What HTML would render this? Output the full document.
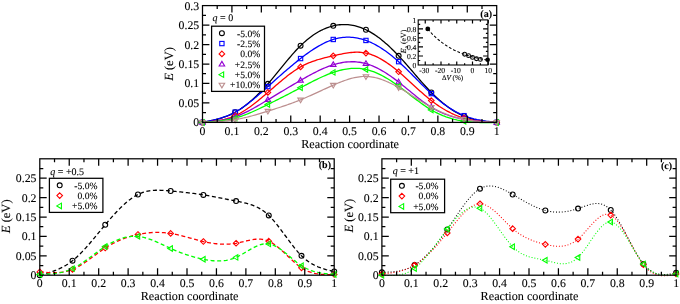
<!DOCTYPE html><html><head><meta charset="utf-8"><style>html,body{margin:0;padding:0;background:#fff;}svg{display:block;will-change:transform;text-rendering:geometricPrecision;} text{stroke:#000;stroke-width:0.1px;}</style></head><body>
<svg width="680" height="304" viewBox="0 0 680 304" font-family='"Liberation Serif", serif'>
<rect width="680" height="304" fill="#fff"/>
<text transform="translate(173.2,64) rotate(-90)" text-anchor="middle" font-size="12.5"><tspan font-style="italic">E</tspan> (eV)</text>
<polyline points="202.5,122.4 204.13,122.08 205.77,121.77 207.4,121.44 209.04,121.11 210.67,120.76 212.31,120.4 213.94,120.03 215.58,119.63 217.21,119.21 218.84,118.76 220.48,118.29 222.11,117.78 223.75,117.23 225.38,116.65 227.02,116.03 228.65,115.36 230.29,114.65 231.92,113.89 233.55,113.07 235.19,112.2 236.82,111.27 238.46,110.28 240.09,109.24 241.73,108.14 243.36,106.99 245,105.78 246.63,104.52 248.26,103.21 249.9,101.85 251.53,100.44 253.17,98.98 254.8,97.48 256.44,95.93 258.07,94.33 259.71,92.69 261.34,91 262.97,89.28 264.61,87.51 266.24,85.7 267.88,83.86 269.51,81.97 271.15,80.05 272.78,78.11 274.42,76.14 276.05,74.16 277.68,72.16 279.32,70.15 280.95,68.14 282.59,66.14 284.22,64.14 285.86,62.16 287.49,60.19 289.13,58.24 290.76,56.33 292.39,54.44 294.03,52.6 295.66,50.8 297.3,49.04 298.93,47.34 300.57,45.7 302.2,44.12 303.84,42.61 305.47,41.15 307.1,39.76 308.74,38.44 310.37,37.17 312.01,35.97 313.64,34.83 315.28,33.75 316.91,32.73 318.55,31.77 320.18,30.87 321.81,30.04 323.45,29.26 325.08,28.54 326.72,27.89 328.35,27.29 329.99,26.75 331.62,26.27 333.26,25.85 334.89,25.48 336.52,25.18 338.16,24.93 339.79,24.74 341.43,24.61 343.06,24.54 344.7,24.53 346.33,24.57 347.97,24.68 349.6,24.84 351.23,25.06 352.87,25.35 354.5,25.69 356.14,26.09 357.77,26.55 359.41,27.07 361.04,27.64 362.68,28.28 364.31,28.98 365.94,29.74 367.58,30.56 369.21,31.43 370.85,32.37 372.48,33.36 374.12,34.4 375.75,35.5 377.39,36.65 379.02,37.85 380.65,39.1 382.29,40.4 383.92,41.75 385.56,43.15 387.19,44.59 388.83,46.07 390.46,47.6 392.1,49.16 393.73,50.77 395.36,52.42 397,54.1 398.63,55.82 400.27,57.58 401.9,59.37 403.54,61.18 405.17,63.02 406.81,64.88 408.44,66.75 410.07,68.64 411.71,70.53 413.34,72.43 414.98,74.32 416.61,76.22 418.25,78.1 419.88,79.97 421.52,81.83 423.15,83.67 424.78,85.48 426.42,87.27 428.05,89.02 429.69,90.74 431.32,92.42 432.96,94.06 434.59,95.65 436.23,97.2 437.86,98.7 439.49,100.16 441.13,101.57 442.76,102.94 444.4,104.26 446.03,105.53 447.67,106.75 449.3,107.92 450.94,109.05 452.57,110.12 454.2,111.14 455.84,112.11 457.47,113.03 459.11,113.89 460.74,114.71 462.38,115.47 464.01,116.17 465.65,116.82 467.28,117.42 468.91,117.97 470.55,118.47 472.18,118.93 473.82,119.35 475.45,119.72 477.09,120.07 478.72,120.38 480.36,120.66 481.99,120.91 483.62,121.14 485.26,121.34 486.89,121.53 488.53,121.7 490.16,121.86 491.8,122 493.43,122.14 495.07,122.27 496.7,122.4" fill="none" stroke="#000" stroke-width="1.3" stroke-linejoin="round"/>
<circle cx="202.5" cy="122.4" r="2.45" fill="none" stroke="#000" stroke-width="1.1"/>
<circle cx="235.19" cy="112.2" r="2.45" fill="none" stroke="#000" stroke-width="1.1"/>
<circle cx="267.88" cy="83.86" r="2.45" fill="none" stroke="#000" stroke-width="1.1"/>
<circle cx="300.57" cy="45.7" r="2.45" fill="none" stroke="#000" stroke-width="1.1"/>
<circle cx="333.26" cy="25.85" r="2.45" fill="none" stroke="#000" stroke-width="1.1"/>
<circle cx="365.94" cy="29.74" r="2.45" fill="none" stroke="#000" stroke-width="1.1"/>
<circle cx="398.63" cy="55.82" r="2.45" fill="none" stroke="#000" stroke-width="1.1"/>
<circle cx="431.32" cy="92.42" r="2.45" fill="none" stroke="#000" stroke-width="1.1"/>
<circle cx="464.01" cy="116.17" r="2.45" fill="none" stroke="#000" stroke-width="1.1"/>
<circle cx="496.7" cy="122.4" r="2.45" fill="none" stroke="#000" stroke-width="1.1"/>
<polyline points="202.5,122.4 204.13,122.08 205.77,121.75 207.4,121.42 209.04,121.08 210.67,120.73 212.31,120.36 213.94,119.98 215.58,119.57 217.21,119.14 218.84,118.69 220.48,118.21 222.11,117.7 223.75,117.15 225.38,116.57 227.02,115.94 228.65,115.28 230.29,114.56 231.92,113.8 233.55,112.99 235.19,112.12 236.82,111.2 238.46,110.22 240.09,109.19 241.73,108.11 243.36,106.99 245,105.82 246.63,104.61 248.26,103.37 249.9,102.09 251.53,100.78 253.17,99.44 254.8,98.08 256.44,96.69 258.07,95.28 259.71,93.86 261.34,92.42 262.97,90.97 264.61,89.51 266.24,88.05 267.88,86.58 269.51,85.11 271.15,83.65 272.78,82.19 274.42,80.73 276.05,79.27 277.68,77.82 279.32,76.37 280.95,74.93 282.59,73.5 284.22,72.08 285.86,70.67 287.49,69.27 289.13,67.88 290.76,66.5 292.39,65.13 294.03,63.78 295.66,62.45 297.3,61.13 298.93,59.83 300.57,58.55 302.2,57.29 303.84,56.04 305.47,54.83 307.1,53.63 308.74,52.47 310.37,51.33 312.01,50.22 313.64,49.14 315.28,48.1 316.91,47.1 318.55,46.13 320.18,45.21 321.81,44.32 323.45,43.48 325.08,42.69 326.72,41.94 328.35,41.25 329.99,40.6 331.62,40.01 333.26,39.47 334.89,38.99 336.52,38.57 338.16,38.2 339.79,37.89 341.43,37.64 343.06,37.44 344.7,37.3 346.33,37.21 347.97,37.18 349.6,37.21 351.23,37.29 352.87,37.42 354.5,37.61 356.14,37.86 357.77,38.15 359.41,38.51 361.04,38.91 362.68,39.37 364.31,39.88 365.94,40.45 367.58,41.06 369.21,41.73 370.85,42.45 372.48,43.22 374.12,44.04 375.75,44.91 377.39,45.83 379.02,46.79 380.65,47.8 382.29,48.85 383.92,49.95 385.56,51.09 387.19,52.27 388.83,53.5 390.46,54.76 392.1,56.07 393.73,57.41 395.36,58.79 397,60.21 398.63,61.66 400.27,63.15 401.9,64.67 403.54,66.22 405.17,67.8 406.81,69.4 408.44,71.01 410.07,72.64 411.71,74.28 413.34,75.93 414.98,77.58 416.61,79.23 418.25,80.89 419.88,82.53 421.52,84.17 423.15,85.79 424.78,87.39 426.42,88.98 428.05,90.55 429.69,92.08 431.32,93.59 432.96,95.06 434.59,96.5 436.23,97.91 437.86,99.28 439.49,100.61 441.13,101.9 442.76,103.16 444.4,104.38 446.03,105.56 447.67,106.69 449.3,107.79 450.94,108.84 452.57,109.85 454.2,110.82 455.84,111.74 457.47,112.62 459.11,113.45 460.74,114.24 462.38,114.98 464.01,115.66 465.65,116.3 467.28,116.9 468.91,117.45 470.55,117.96 472.18,118.42 473.82,118.86 475.45,119.25 477.09,119.62 478.72,119.95 480.36,120.26 481.99,120.55 483.62,120.81 485.26,121.05 486.89,121.27 488.53,121.48 490.16,121.68 491.8,121.87 493.43,122.05 495.07,122.23 496.7,122.4" fill="none" stroke="#0000ff" stroke-width="1.3" stroke-linejoin="round"/>
<rect x="200.35" y="120.25" width="4.3" height="4.3" fill="none" stroke="#0000ff" stroke-width="1.1"/>
<rect x="233.04" y="109.97" width="4.3" height="4.3" fill="none" stroke="#0000ff" stroke-width="1.1"/>
<rect x="265.73" y="84.43" width="4.3" height="4.3" fill="none" stroke="#0000ff" stroke-width="1.1"/>
<rect x="298.42" y="56.4" width="4.3" height="4.3" fill="none" stroke="#0000ff" stroke-width="1.1"/>
<rect x="331.11" y="37.32" width="4.3" height="4.3" fill="none" stroke="#0000ff" stroke-width="1.1"/>
<rect x="363.79" y="38.3" width="4.3" height="4.3" fill="none" stroke="#0000ff" stroke-width="1.1"/>
<rect x="396.48" y="59.51" width="4.3" height="4.3" fill="none" stroke="#0000ff" stroke-width="1.1"/>
<rect x="429.17" y="91.44" width="4.3" height="4.3" fill="none" stroke="#0000ff" stroke-width="1.1"/>
<rect x="461.86" y="113.51" width="4.3" height="4.3" fill="none" stroke="#0000ff" stroke-width="1.1"/>
<rect x="494.55" y="120.25" width="4.3" height="4.3" fill="none" stroke="#0000ff" stroke-width="1.1"/>
<polyline points="202.5,122.4 204.13,122.26 205.77,122.12 207.4,121.98 209.04,121.82 210.67,121.65 212.31,121.47 213.94,121.27 215.58,121.05 217.21,120.81 218.84,120.53 220.48,120.23 222.11,119.9 223.75,119.52 225.38,119.11 227.02,118.66 228.65,118.16 230.29,117.62 231.92,117.02 233.55,116.37 235.19,115.66 236.82,114.9 238.46,114.07 240.09,113.2 241.73,112.26 243.36,111.28 245,110.26 246.63,109.19 248.26,108.07 249.9,106.92 251.53,105.73 253.17,104.51 254.8,103.26 256.44,101.97 258.07,100.67 259.71,99.33 261.34,97.98 262.97,96.61 264.61,95.23 266.24,93.83 267.88,92.42 269.51,91.01 271.15,89.59 272.78,88.17 274.42,86.75 276.05,85.33 277.68,83.93 279.32,82.53 280.95,81.16 282.59,79.79 284.22,78.45 285.86,77.14 287.49,75.85 289.13,74.59 290.76,73.37 292.39,72.18 294.03,71.04 295.66,69.94 297.3,68.88 298.93,67.87 300.57,66.92 302.2,66.02 303.84,65.18 305.47,64.38 307.1,63.64 308.74,62.93 310.37,62.27 312.01,61.65 313.64,61.07 315.28,60.51 316.91,59.99 318.55,59.5 320.18,59.03 321.81,58.58 323.45,58.15 325.08,57.74 326.72,57.34 328.35,56.95 329.99,56.57 331.62,56.2 333.26,55.82 334.89,55.45 336.52,55.08 338.16,54.71 339.79,54.36 341.43,54.02 343.06,53.7 344.7,53.4 346.33,53.12 347.97,52.87 349.6,52.66 351.23,52.48 352.87,52.34 354.5,52.24 356.14,52.19 357.77,52.19 359.41,52.25 361.04,52.37 362.68,52.54 364.31,52.79 365.94,53.1 367.58,53.48 369.21,53.94 370.85,54.46 372.48,55.05 374.12,55.71 375.75,56.43 377.39,57.2 379.02,58.04 380.65,58.93 382.29,59.87 383.92,60.87 385.56,61.91 387.19,63.01 388.83,64.14 390.46,65.32 392.1,66.54 393.73,67.8 395.36,69.1 397,70.43 398.63,71.79 400.27,73.18 401.9,74.59 403.54,76.03 405.17,77.49 406.81,78.96 408.44,80.45 410.07,81.94 411.71,83.44 413.34,84.95 414.98,86.45 416.61,87.94 418.25,89.43 419.88,90.9 421.52,92.36 423.15,93.8 424.78,95.22 426.42,96.61 428.05,97.97 429.69,99.3 431.32,100.6 432.96,101.85 434.59,103.07 436.23,104.24 437.86,105.37 439.49,106.47 441.13,107.52 442.76,108.54 444.4,109.51 446.03,110.45 447.67,111.35 449.3,112.2 450.94,113.02 452.57,113.79 454.2,114.53 455.84,115.23 457.47,115.89 459.11,116.5 460.74,117.08 462.38,117.62 464.01,118.12 465.65,118.58 467.28,119 468.91,119.38 470.55,119.74 472.18,120.06 473.82,120.35 475.45,120.61 477.09,120.85 478.72,121.06 480.36,121.25 481.99,121.42 483.62,121.58 485.26,121.71 486.89,121.84 488.53,121.95 490.16,122.05 491.8,122.15 493.43,122.23 495.07,122.32 496.7,122.4" fill="none" stroke="#ff0000" stroke-width="1.3" stroke-linejoin="round"/>
<path d="M202.5 119.6L205.3 122.4L202.5 125.2L199.7 122.4Z" fill="none" stroke="#ff0000" stroke-width="1.1"/>
<path d="M235.19 112.86L237.99 115.66L235.19 118.46L232.39 115.66Z" fill="none" stroke="#ff0000" stroke-width="1.1"/>
<path d="M267.88 89.62L270.68 92.42L267.88 95.22L265.08 92.42Z" fill="none" stroke="#ff0000" stroke-width="1.1"/>
<path d="M300.57 64.12L303.37 66.92L300.57 69.72L297.77 66.92Z" fill="none" stroke="#ff0000" stroke-width="1.1"/>
<path d="M333.26 53.02L336.06 55.82L333.26 58.62L330.46 55.82Z" fill="none" stroke="#ff0000" stroke-width="1.1"/>
<path d="M365.94 50.3L368.74 53.1L365.94 55.9L363.14 53.1Z" fill="none" stroke="#ff0000" stroke-width="1.1"/>
<path d="M398.63 68.99L401.43 71.79L398.63 74.59L395.83 71.79Z" fill="none" stroke="#ff0000" stroke-width="1.1"/>
<path d="M431.32 97.8L434.12 100.6L431.32 103.4L428.52 100.6Z" fill="none" stroke="#ff0000" stroke-width="1.1"/>
<path d="M464.01 115.32L466.81 118.12L464.01 120.92L461.21 118.12Z" fill="none" stroke="#ff0000" stroke-width="1.1"/>
<path d="M496.7 119.6L499.5 122.4L496.7 125.2L493.9 122.4Z" fill="none" stroke="#ff0000" stroke-width="1.1"/>
<polyline points="202.5,122.4 204.13,122.26 205.77,122.11 207.4,121.97 209.04,121.81 210.67,121.65 212.31,121.48 213.94,121.29 215.58,121.09 217.21,120.87 218.84,120.63 220.48,120.38 222.11,120.1 223.75,119.79 225.38,119.45 227.02,119.09 228.65,118.7 230.29,118.27 231.92,117.8 233.55,117.3 235.19,116.75 236.82,116.17 238.46,115.54 240.09,114.88 241.73,114.18 243.36,113.45 245,112.68 246.63,111.89 248.26,111.07 249.9,110.22 251.53,109.35 253.17,108.46 254.8,107.55 256.44,106.62 258.07,105.67 259.71,104.72 261.34,103.75 262.97,102.78 264.61,101.79 266.24,100.81 267.88,99.82 269.51,98.83 271.15,97.84 272.78,96.85 274.42,95.86 276.05,94.88 277.68,93.89 279.32,92.91 280.95,91.92 282.59,90.94 284.22,89.96 285.86,88.99 287.49,88.01 289.13,87.04 290.76,86.07 292.39,85.11 294.03,84.15 295.66,83.19 297.3,82.24 298.93,81.29 300.57,80.35 302.2,79.42 303.84,78.48 305.47,77.56 307.1,76.65 308.74,75.75 310.37,74.86 312.01,73.99 313.64,73.14 315.28,72.3 316.91,71.48 318.55,70.69 320.18,69.92 321.81,69.17 323.45,68.45 325.08,67.76 326.72,67.1 328.35,66.47 329.99,65.87 331.62,65.31 333.26,64.78 334.89,64.29 336.52,63.84 338.16,63.43 339.79,63.06 341.43,62.74 343.06,62.46 344.7,62.22 346.33,62.02 347.97,61.88 349.6,61.78 351.23,61.73 352.87,61.72 354.5,61.77 356.14,61.87 357.77,62.03 359.41,62.23 361.04,62.49 362.68,62.81 364.31,63.18 365.94,63.61 367.58,64.1 369.21,64.64 370.85,65.24 372.48,65.9 374.12,66.6 375.75,67.36 377.39,68.16 379.02,69 380.65,69.9 382.29,70.83 383.92,71.81 385.56,72.82 387.19,73.87 388.83,74.95 390.46,76.07 392.1,77.22 393.73,78.4 395.36,79.61 397,80.85 398.63,82.1 400.27,83.38 401.9,84.68 403.54,86 405.17,87.32 406.81,88.66 408.44,90 410.07,91.34 411.71,92.68 413.34,94.01 414.98,95.33 416.61,96.64 418.25,97.93 419.88,99.2 421.52,100.44 423.15,101.66 424.78,102.85 426.42,104 428.05,105.12 429.69,106.19 431.32,107.22 432.96,108.19 434.59,109.12 436.23,110.01 437.86,110.85 439.49,111.64 441.13,112.4 442.76,113.11 444.4,113.78 446.03,114.41 447.67,115.01 449.3,115.58 450.94,116.1 452.57,116.6 454.2,117.07 455.84,117.5 457.47,117.91 459.11,118.29 460.74,118.65 462.38,118.98 464.01,119.29 465.65,119.57 467.28,119.84 468.91,120.09 470.55,120.32 472.18,120.53 473.82,120.73 475.45,120.91 477.09,121.08 478.72,121.23 480.36,121.37 481.99,121.51 483.62,121.63 485.26,121.75 486.89,121.85 488.53,121.95 490.16,122.05 491.8,122.14 493.43,122.23 495.07,122.32 496.7,122.4" fill="none" stroke="#9400d3" stroke-width="1.3" stroke-linejoin="round"/>
<path d="M202.5 119.5L205.25 124.14L199.75 124.14Z" fill="none" stroke="#9400d3" stroke-width="1.1"/>
<path d="M235.19 113.85L237.94 118.49L232.43 118.49Z" fill="none" stroke="#9400d3" stroke-width="1.1"/>
<path d="M267.88 96.92L270.63 101.56L265.12 101.56Z" fill="none" stroke="#9400d3" stroke-width="1.1"/>
<path d="M300.57 77.45L303.32 82.09L297.81 82.09Z" fill="none" stroke="#9400d3" stroke-width="1.1"/>
<path d="M333.26 61.88L336.01 66.52L330.5 66.52Z" fill="none" stroke="#9400d3" stroke-width="1.1"/>
<path d="M365.94 60.71L368.7 65.35L363.19 65.35Z" fill="none" stroke="#9400d3" stroke-width="1.1"/>
<path d="M398.63 79.2L401.39 83.84L395.88 83.84Z" fill="none" stroke="#9400d3" stroke-width="1.1"/>
<path d="M431.32 104.32L434.08 108.96L428.57 108.96Z" fill="none" stroke="#9400d3" stroke-width="1.1"/>
<path d="M464.01 116.39L466.77 121.03L461.26 121.03Z" fill="none" stroke="#9400d3" stroke-width="1.1"/>
<path d="M496.7 119.5L499.45 124.14L493.94 124.14Z" fill="none" stroke="#9400d3" stroke-width="1.1"/>
<polyline points="202.5,122.4 204.13,122.3 205.77,122.2 207.4,122.09 209.04,121.98 210.67,121.87 212.31,121.74 213.94,121.61 215.58,121.46 217.21,121.3 218.84,121.12 220.48,120.92 222.11,120.71 223.75,120.48 225.38,120.22 227.02,119.94 228.65,119.63 230.29,119.3 231.92,118.94 233.55,118.54 235.19,118.12 236.82,117.66 238.46,117.16 240.09,116.64 241.73,116.08 243.36,115.5 245,114.89 246.63,114.26 248.26,113.6 249.9,112.93 251.53,112.23 253.17,111.51 254.8,110.78 256.44,110.03 258.07,109.26 259.71,108.49 261.34,107.7 262.97,106.91 264.61,106.11 266.24,105.3 267.88,104.49 269.51,103.68 271.15,102.86 272.78,102.04 274.42,101.22 276.05,100.4 277.68,99.57 279.32,98.74 280.95,97.91 282.59,97.08 284.22,96.24 285.86,95.4 287.49,94.56 289.13,93.72 290.76,92.87 292.39,92.02 294.03,91.17 295.66,90.32 297.3,89.47 298.93,88.61 300.57,87.75 302.2,86.89 303.84,86.02 305.47,85.16 307.1,84.31 308.74,83.45 310.37,82.6 312.01,81.76 313.64,80.93 315.28,80.12 316.91,79.31 318.55,78.52 320.18,77.75 321.81,76.99 323.45,76.26 325.08,75.55 326.72,74.86 328.35,74.19 329.99,73.56 331.62,72.95 333.26,72.37 334.89,71.83 336.52,71.31 338.16,70.84 339.79,70.4 341.43,70 343.06,69.63 344.7,69.31 346.33,69.03 347.97,68.8 349.6,68.6 351.23,68.46 352.87,68.36 354.5,68.31 356.14,68.31 357.77,68.36 359.41,68.47 361.04,68.63 362.68,68.85 364.31,69.12 365.94,69.45 367.58,69.84 369.21,70.29 370.85,70.8 372.48,71.36 374.12,71.97 375.75,72.63 377.39,73.34 379.02,74.1 380.65,74.91 382.29,75.75 383.92,76.64 385.56,77.57 387.19,78.54 388.83,79.54 390.46,80.57 392.1,81.64 393.73,82.74 395.36,83.86 397,85.02 398.63,86.19 400.27,87.39 401.9,88.61 403.54,89.84 405.17,91.09 406.81,92.35 408.44,93.61 410.07,94.87 411.71,96.14 413.34,97.39 414.98,98.64 416.61,99.88 418.25,101.1 419.88,102.31 421.52,103.49 423.15,104.65 424.78,105.78 426.42,106.88 428.05,107.94 429.69,108.96 431.32,109.94 432.96,110.88 434.59,111.77 436.23,112.61 437.86,113.42 439.49,114.18 441.13,114.9 442.76,115.58 444.4,116.22 446.03,116.83 447.67,117.39 449.3,117.92 450.94,118.42 452.57,118.88 454.2,119.31 455.84,119.7 457.47,120.07 459.11,120.4 460.74,120.71 462.38,120.98 464.01,121.23 465.65,121.45 467.28,121.65 468.91,121.82 470.55,121.97 472.18,122.1 473.82,122.21 475.45,122.3 477.09,122.38 478.72,122.44 480.36,122.48 481.99,122.51 483.62,122.53 485.26,122.53 486.89,122.53 488.53,122.52 490.16,122.51 491.8,122.48 493.43,122.46 495.07,122.43 496.7,122.4" fill="none" stroke="#00ff00" stroke-width="1.3" stroke-linejoin="round"/>
<path d="M199.6 122.4L204.24 119.65L204.24 125.16Z" fill="none" stroke="#00ff00" stroke-width="1.1"/>
<path d="M232.29 118.12L236.93 115.36L236.93 120.87Z" fill="none" stroke="#00ff00" stroke-width="1.1"/>
<path d="M264.98 104.49L269.62 101.74L269.62 107.25Z" fill="none" stroke="#00ff00" stroke-width="1.1"/>
<path d="M297.67 87.75L302.31 84.99L302.31 90.5Z" fill="none" stroke="#00ff00" stroke-width="1.1"/>
<path d="M330.36 72.37L335 69.62L335 75.13Z" fill="none" stroke="#00ff00" stroke-width="1.1"/>
<path d="M363.04 69.45L367.68 66.7L367.68 72.21Z" fill="none" stroke="#00ff00" stroke-width="1.1"/>
<path d="M395.73 86.19L400.37 83.44L400.37 88.95Z" fill="none" stroke="#00ff00" stroke-width="1.1"/>
<path d="M428.42 109.94L433.06 107.19L433.06 112.7Z" fill="none" stroke="#00ff00" stroke-width="1.1"/>
<path d="M461.11 121.23L465.75 118.48L465.75 123.99Z" fill="none" stroke="#00ff00" stroke-width="1.1"/>
<path d="M493.8 122.4L498.44 119.65L498.44 125.16Z" fill="none" stroke="#00ff00" stroke-width="1.1"/>
<polyline points="202.5,122.4 204.13,122.34 205.77,122.27 207.4,122.2 209.04,122.13 210.67,122.06 212.31,121.98 213.94,121.89 215.58,121.79 217.21,121.69 218.84,121.58 220.48,121.45 222.11,121.32 223.75,121.17 225.38,121.01 227.02,120.83 228.65,120.63 230.29,120.42 231.92,120.19 233.55,119.94 235.19,119.67 236.82,119.38 238.46,119.07 240.09,118.74 241.73,118.39 243.36,118.02 245,117.64 246.63,117.24 248.26,116.83 249.9,116.4 251.53,115.96 253.17,115.51 254.8,115.05 256.44,114.58 258.07,114.1 259.71,113.61 261.34,113.12 262.97,112.62 264.61,112.12 266.24,111.62 267.88,111.11 269.51,110.6 271.15,110.09 272.78,109.58 274.42,109.06 276.05,108.54 277.68,108.02 279.32,107.49 280.95,106.95 282.59,106.41 284.22,105.86 285.86,105.31 287.49,104.74 289.13,104.17 290.76,103.58 292.39,102.98 294.03,102.38 295.66,101.76 297.3,101.12 298.93,100.48 300.57,99.82 302.2,99.14 303.84,98.46 305.47,97.76 307.1,97.04 308.74,96.32 310.37,95.59 312.01,94.85 313.64,94.11 315.28,93.36 316.91,92.61 318.55,91.85 320.18,91.09 321.81,90.34 323.45,89.58 325.08,88.83 326.72,88.08 328.35,87.33 329.99,86.6 331.62,85.86 333.26,85.14 334.89,84.43 336.52,83.73 338.16,83.04 339.79,82.38 341.43,81.73 343.06,81.11 344.7,80.51 346.33,79.95 347.97,79.41 349.6,78.91 351.23,78.45 352.87,78.03 354.5,77.65 356.14,77.32 357.77,77.04 359.41,76.81 361.04,76.63 362.68,76.51 364.31,76.46 365.94,76.46 367.58,76.53 369.21,76.66 370.85,76.85 372.48,77.1 374.12,77.41 375.75,77.78 377.39,78.2 379.02,78.66 380.65,79.18 382.29,79.75 383.92,80.35 385.56,81 387.19,81.69 388.83,82.42 390.46,83.19 392.1,83.99 393.73,84.82 395.36,85.68 397,86.56 398.63,87.48 400.27,88.41 401.9,89.37 403.54,90.34 405.17,91.34 406.81,92.34 408.44,93.35 410.07,94.37 411.71,95.4 413.34,96.43 414.98,97.46 416.61,98.49 418.25,99.51 419.88,100.53 421.52,101.54 423.15,102.53 424.78,103.51 426.42,104.47 428.05,105.41 429.69,106.32 431.32,107.22 432.96,108.08 434.59,108.92 436.23,109.73 437.86,110.51 439.49,111.26 441.13,111.99 442.76,112.68 444.4,113.35 446.03,114 447.67,114.61 449.3,115.2 450.94,115.76 452.57,116.3 454.2,116.81 455.84,117.29 457.47,117.74 459.11,118.17 460.74,118.57 462.38,118.94 464.01,119.29 465.65,119.61 467.28,119.9 468.91,120.17 470.55,120.42 472.18,120.65 473.82,120.85 475.45,121.04 477.09,121.21 478.72,121.37 480.36,121.51 481.99,121.63 483.62,121.75 485.26,121.85 486.89,121.95 488.53,122.04 490.16,122.12 491.8,122.19 493.43,122.26 495.07,122.33 496.7,122.4" fill="none" stroke="#bc8f8f" stroke-width="1.2" stroke-linejoin="round"/>
<path d="M202.5 125.3L205.25 120.66L199.75 120.66Z" fill="none" stroke="#bc8f8f" stroke-width="1.1"/>
<path d="M235.19 122.57L237.94 117.93L232.43 117.93Z" fill="none" stroke="#bc8f8f" stroke-width="1.1"/>
<path d="M267.88 114.01L270.63 109.37L265.12 109.37Z" fill="none" stroke="#bc8f8f" stroke-width="1.1"/>
<path d="M300.57 102.72L303.32 98.08L297.81 98.08Z" fill="none" stroke="#bc8f8f" stroke-width="1.1"/>
<path d="M333.26 88.04L336.01 83.4L330.5 83.4Z" fill="none" stroke="#bc8f8f" stroke-width="1.1"/>
<path d="M365.94 79.36L368.7 74.72L363.19 74.72Z" fill="none" stroke="#bc8f8f" stroke-width="1.1"/>
<path d="M398.63 90.38L401.39 85.74L395.88 85.74Z" fill="none" stroke="#bc8f8f" stroke-width="1.1"/>
<path d="M431.32 110.12L434.08 105.48L428.57 105.48Z" fill="none" stroke="#bc8f8f" stroke-width="1.1"/>
<path d="M464.01 122.19L466.77 117.55L461.26 117.55Z" fill="none" stroke="#bc8f8f" stroke-width="1.1"/>
<path d="M496.7 125.3L499.45 120.66L493.94 120.66Z" fill="none" stroke="#bc8f8f" stroke-width="1.1"/>
<rect x="202.5" y="5.6" width="294.2" height="116.8" fill="none" stroke="#000" stroke-width="1.25"/>
<path d="M217.21 122.4v-3.5M217.21 5.6v3.5M231.92 122.4v-6.9M231.92 5.6v6.9M246.63 122.4v-3.5M246.63 5.6v3.5M261.34 122.4v-6.9M261.34 5.6v6.9M276.05 122.4v-3.5M276.05 5.6v3.5M290.76 122.4v-6.9M290.76 5.6v6.9M305.47 122.4v-3.5M305.47 5.6v3.5M320.18 122.4v-6.9M320.18 5.6v6.9M334.89 122.4v-3.5M334.89 5.6v3.5M349.6 122.4v-6.9M349.6 5.6v6.9M364.31 122.4v-3.5M364.31 5.6v3.5M379.02 122.4v-6.9M379.02 5.6v6.9M393.73 122.4v-3.5M393.73 5.6v3.5M408.44 122.4v-6.9M408.44 5.6v6.9M423.15 122.4v-3.5M423.15 5.6v3.5M437.86 122.4v-6.9M437.86 5.6v6.9M452.57 122.4v-3.5M452.57 5.6v3.5M467.28 122.4v-6.9M467.28 5.6v6.9M481.99 122.4v-3.5M481.99 5.6v3.5M202.5 112.67h3.5M496.7 112.67h-3.5M202.5 102.93h6.9M496.7 102.93h-6.9M202.5 93.2h3.5M496.7 93.2h-3.5M202.5 83.47h6.9M496.7 83.47h-6.9M202.5 73.73h3.5M496.7 73.73h-3.5M202.5 64h6.9M496.7 64h-6.9M202.5 54.27h3.5M496.7 54.27h-3.5M202.5 44.53h6.9M496.7 44.53h-6.9M202.5 34.8h3.5M496.7 34.8h-3.5M202.5 25.07h6.9M496.7 25.07h-6.9M202.5 15.33h3.5M496.7 15.33h-3.5" stroke="#000" stroke-width="1.25" fill="none"/>
<text x="202.5" y="134.5" text-anchor="middle" font-size="11.8">0</text>
<text x="231.92" y="134.5" text-anchor="middle" font-size="11.8">0.1</text>
<text x="261.34" y="134.5" text-anchor="middle" font-size="11.8">0.2</text>
<text x="290.76" y="134.5" text-anchor="middle" font-size="11.8">0.3</text>
<text x="320.18" y="134.5" text-anchor="middle" font-size="11.8">0.4</text>
<text x="349.6" y="134.5" text-anchor="middle" font-size="11.8">0.5</text>
<text x="379.02" y="134.5" text-anchor="middle" font-size="11.8">0.6</text>
<text x="408.44" y="134.5" text-anchor="middle" font-size="11.8">0.7</text>
<text x="437.86" y="134.5" text-anchor="middle" font-size="11.8">0.8</text>
<text x="467.28" y="134.5" text-anchor="middle" font-size="11.8">0.9</text>
<text x="496.7" y="134.5" text-anchor="middle" font-size="11.8">1</text>
<text x="199.2" y="126.4" text-anchor="end" font-size="11.8">0</text>
<text x="199.2" y="106.93" text-anchor="end" font-size="11.8">0.05</text>
<text x="199.2" y="87.47" text-anchor="end" font-size="11.8">0.1</text>
<text x="199.2" y="68" text-anchor="end" font-size="11.8">0.15</text>
<text x="199.2" y="48.53" text-anchor="end" font-size="11.8">0.2</text>
<text x="199.2" y="29.07" text-anchor="end" font-size="11.8">0.25</text>
<text x="199.2" y="9.6" text-anchor="end" font-size="11.8">0.3</text>
<text x="350.1" y="147.6" text-anchor="middle" font-size="12.2">Reaction coordinate</text>
<text x="212.5" y="21" font-size="10"><tspan font-style="italic">q</tspan> = 0</text>
<rect x="211.6" y="26.2" width="52.9" height="65.2" fill="#fff" stroke="#000" stroke-width="1.25"/>
<circle cx="221.9" cy="33.2" r="2.45" fill="none" stroke="#000" stroke-width="1.1"/>
<text x="260.2" y="36.5" text-anchor="end" font-size="9.6">-5.0%</text>
<rect x="219.75" y="41.41" width="4.3" height="4.3" fill="none" stroke="#0000ff" stroke-width="1.1"/>
<text x="260.2" y="46.86" text-anchor="end" font-size="9.6">-2.5%</text>
<path d="M221.9 51.12L224.7 53.92L221.9 56.72L219.1 53.92Z" fill="none" stroke="#ff0000" stroke-width="1.1"/>
<text x="260.2" y="57.22" text-anchor="end" font-size="9.6">0.0%</text>
<path d="M221.9 61.38L224.66 66.02L219.15 66.02Z" fill="none" stroke="#9400d3" stroke-width="1.1"/>
<text x="260.2" y="67.58" text-anchor="end" font-size="9.6">+2.5%</text>
<path d="M219 74.64L223.64 71.89L223.64 77.39Z" fill="none" stroke="#00ff00" stroke-width="1.1"/>
<text x="260.2" y="77.94" text-anchor="end" font-size="9.6">+5.0%</text>
<path d="M221.9 87.9L224.66 83.26L219.15 83.26Z" fill="none" stroke="#bc8f8f" stroke-width="1.1"/>
<text x="260.2" y="88.3" text-anchor="end" font-size="9.6">+10.0%</text>
<text x="492" y="16.6" text-anchor="end" font-size="10" font-weight="bold">(a)</text>
<rect x="418.2" y="19.9" width="69.7" height="45.1" fill="#fff" stroke="#000" stroke-width="1.1"/>
<path d="M425.25 65v-3.6M425.25 19.9v3.6M433.12 65v-1.8M433.12 19.9v1.8M441 65v-3.6M441 19.9v3.6M448.88 65v-1.8M448.88 19.9v1.8M456.75 65v-3.6M456.75 19.9v3.6M464.62 65v-1.8M464.62 19.9v1.8M472.5 65v-3.6M472.5 19.9v3.6M480.38 65v-1.8M480.38 19.9v1.8M488.25 65v-3.6M488.25 19.9v3.6M418.2 60.49h2.0M487.9 60.49h-2.0M418.2 55.98h4.8M487.9 55.98h-4.8M418.2 51.47h2.0M487.9 51.47h-2.0M418.2 46.96h4.8M487.9 46.96h-4.8M418.2 42.45h2.0M487.9 42.45h-2.0M418.2 37.94h4.8M487.9 37.94h-4.8M418.2 33.43h2.0M487.9 33.43h-2.0M418.2 28.92h4.8M487.9 28.92h-4.8M418.2 24.41h2.0M487.9 24.41h-2.0" stroke="#000" stroke-width="1.2" fill="none"/>
<text x="424.25" y="73.2" text-anchor="middle" font-size="7.6">-30</text>
<text x="440" y="73.2" text-anchor="middle" font-size="7.6">-20</text>
<text x="455.75" y="73.2" text-anchor="middle" font-size="7.6">-10</text>
<text x="472.5" y="73.2" text-anchor="middle" font-size="7.6">0</text>
<text x="488.25" y="73.2" text-anchor="middle" font-size="7.6">10</text>
<text x="416.4" y="67.6" text-anchor="end" font-size="7.6">0</text>
<text x="416.4" y="58.58" text-anchor="end" font-size="7.6">0.2</text>
<text x="416.4" y="49.56" text-anchor="end" font-size="7.6">0.4</text>
<text x="416.4" y="40.54" text-anchor="end" font-size="7.6">0.6</text>
<text x="416.4" y="31.52" text-anchor="end" font-size="7.6">0.8</text>
<text x="416.4" y="22.5" text-anchor="end" font-size="7.6">1</text>
<text x="452.6" y="79.8" text-anchor="middle" font-size="7.1">&#916;<tspan font-style="italic">V</tspan> (%)</text>
<text transform="translate(406.3,41.5) rotate(-90)" text-anchor="middle" font-size="7.8"><tspan font-style="italic">E</tspan><tspan font-size="5.5" dy="1.8">a</tspan><tspan dy="-1.8"> (eV)</tspan></text>
<polyline points="427.77,28.96 428.8,30.17 429.82,31.34 430.85,32.47 431.87,33.57 432.9,34.62 433.92,35.64 434.95,36.63 435.97,37.58 437,38.51 438.02,39.4 439.05,40.26 440.07,41.09 441.1,41.89 442.12,42.67 443.15,43.42 444.17,44.15 445.2,44.85 446.22,45.52 447.25,46.18 448.27,46.81 449.3,47.42 450.32,48.01 451.35,48.59 452.37,49.14 453.4,49.67 454.42,50.19 455.45,50.68 456.47,51.17 457.5,51.63 458.52,52.08 459.55,52.51 460.57,52.93 461.6,53.34 462.62,53.73 463.65,54.11 464.67,54.48 465.7,54.83 466.72,55.17 467.75,55.5 468.77,55.82 469.8,56.13 470.82,56.43 471.85,56.72 472.87,57 473.9,57.26 474.92,57.52 475.95,57.78 476.97,58.02 478,58.25 479.02,58.48 480.05,58.7 481.07,58.91 482.1,59.12 483.12,59.31 484.15,59.51 485.17,59.69 486.2,59.87 487.22,60.04 488.25,60.21" fill="none" stroke="#000" stroke-width="1.05" stroke-dasharray="2.8 1.9"/>
<circle cx="427.77" cy="28.92" r="2.4" fill="#000"/>
<circle cx="464.62" cy="54.18" r="1.9" fill="none" stroke="#000" stroke-width="1.1"/>
<circle cx="468.56" cy="55.66" r="1.9" fill="none" stroke="#000" stroke-width="1.1"/>
<circle cx="472.5" cy="57.38" r="1.9" fill="none" stroke="#000" stroke-width="1.1"/>
<circle cx="476.44" cy="58.69" r="1.9" fill="none" stroke="#000" stroke-width="1.1"/>
<circle cx="480.38" cy="59.41" r="1.9" fill="none" stroke="#000" stroke-width="1.1"/>
<circle cx="487.65" cy="59.81" r="2.3" fill="#000"/>
<text transform="translate(10.3,216.3) rotate(-90)" text-anchor="middle" font-size="12.5"><tspan font-style="italic">E</tspan> (eV)</text>
<polyline points="39.8,275.2 41.44,274.76 43.07,274.31 44.71,273.85 46.34,273.39 47.98,272.9 49.61,272.39 51.25,271.86 52.88,271.3 54.52,270.7 56.16,270.07 57.79,269.39 59.43,268.67 61.06,267.89 62.7,267.06 64.33,266.18 65.97,265.22 67.6,264.2 69.24,263.11 70.88,261.94 72.51,260.69 74.15,259.36 75.78,257.94 77.42,256.45 79.05,254.9 80.69,253.27 82.32,251.59 83.96,249.86 85.6,248.08 87.23,246.25 88.87,244.38 90.5,242.48 92.14,240.56 93.77,238.61 95.41,236.64 97.04,234.66 98.68,232.68 100.32,230.69 101.95,228.7 103.59,226.72 105.22,224.76 106.86,222.81 108.49,220.89 110.13,218.99 111.76,217.13 113.4,215.3 115.04,213.5 116.67,211.75 118.31,210.04 119.94,208.38 121.58,206.78 123.21,205.23 124.85,203.74 126.48,202.32 128.12,200.97 129.76,199.68 131.39,198.48 133.03,197.35 134.66,196.31 136.3,195.36 137.93,194.5 139.57,193.73 141.2,193.05 142.84,192.46 144.48,191.95 146.11,191.51 147.75,191.15 149.38,190.86 151.02,190.63 152.65,190.45 154.29,190.33 155.92,190.26 157.56,190.23 159.2,190.24 160.83,190.28 162.47,190.36 164.1,190.45 165.74,190.57 167.37,190.71 169.01,190.85 170.64,191 172.28,191.16 173.92,191.31 175.55,191.47 177.19,191.63 178.82,191.8 180.46,191.96 182.09,192.13 183.73,192.31 185.36,192.49 187,192.67 188.64,192.86 190.27,193.06 191.91,193.26 193.54,193.47 195.18,193.69 196.81,193.91 198.45,194.14 200.08,194.38 201.72,194.63 203.36,194.88 204.99,195.15 206.63,195.43 208.26,195.71 209.9,196 211.53,196.3 213.17,196.6 214.8,196.91 216.44,197.22 218.08,197.54 219.71,197.86 221.35,198.18 222.98,198.51 224.62,198.83 226.25,199.16 227.89,199.49 229.52,199.81 231.16,200.14 232.8,200.46 234.43,200.78 236.07,201.09 237.7,201.4 239.34,201.72 240.97,202.04 242.61,202.38 244.24,202.75 245.88,203.14 247.52,203.57 249.15,204.04 250.79,204.56 252.42,205.13 254.06,205.77 255.69,206.48 257.33,207.26 258.96,208.13 260.6,209.09 262.24,210.14 263.87,211.3 265.51,212.56 267.14,213.94 268.78,215.45 270.41,217.08 272.05,218.83 273.68,220.68 275.32,222.62 276.96,224.65 278.59,226.74 280.23,228.88 281.86,231.06 283.5,233.27 285.13,235.5 286.77,237.73 288.4,239.95 290.04,242.14 291.68,244.3 293.31,246.42 294.95,248.47 296.58,250.44 298.22,252.33 299.85,254.12 301.49,255.8 303.12,257.36 304.76,258.79 306.4,260.12 308.03,261.34 309.67,262.46 311.3,263.49 312.94,264.42 314.57,265.28 316.21,266.06 317.84,266.78 319.48,267.43 321.12,268.02 322.75,268.57 324.39,269.07 326.02,269.54 327.66,269.97 329.29,270.38 330.93,270.77 332.56,271.14 334.2,271.51" fill="none" stroke="#000" stroke-width="1.3" stroke-dasharray="4 2.6" stroke-linejoin="round"/>
<circle cx="39.8" cy="275.2" r="2.45" fill="none" stroke="#000" stroke-width="1.1"/>
<circle cx="72.51" cy="260.69" r="2.45" fill="none" stroke="#000" stroke-width="1.1"/>
<circle cx="105.22" cy="224.76" r="2.45" fill="none" stroke="#000" stroke-width="1.1"/>
<circle cx="137.93" cy="194.5" r="2.45" fill="none" stroke="#000" stroke-width="1.1"/>
<circle cx="170.64" cy="191" r="2.45" fill="none" stroke="#000" stroke-width="1.1"/>
<circle cx="203.36" cy="194.88" r="2.45" fill="none" stroke="#000" stroke-width="1.1"/>
<circle cx="236.07" cy="201.09" r="2.45" fill="none" stroke="#000" stroke-width="1.1"/>
<circle cx="268.78" cy="215.45" r="2.45" fill="none" stroke="#000" stroke-width="1.1"/>
<circle cx="301.49" cy="255.8" r="2.45" fill="none" stroke="#000" stroke-width="1.1"/>
<circle cx="334.2" cy="271.51" r="2.45" fill="none" stroke="#000" stroke-width="1.1"/>
<polyline points="39.8,271.9 41.44,272.05 43.07,272.19 44.71,272.32 46.34,272.44 47.98,272.54 49.61,272.62 51.25,272.68 52.88,272.71 54.52,272.71 56.16,272.67 57.79,272.59 59.43,272.47 61.06,272.29 62.7,272.07 64.33,271.79 65.97,271.44 67.6,271.03 69.24,270.56 70.88,270.01 72.51,269.38 74.15,268.67 75.78,267.89 77.42,267.04 79.05,266.13 80.69,265.16 82.32,264.14 83.96,263.08 85.6,261.97 87.23,260.84 88.87,259.68 90.5,258.5 92.14,257.31 93.77,256.11 95.41,254.91 97.04,253.72 98.68,252.54 100.32,251.37 101.95,250.23 103.59,249.12 105.22,248.04 106.86,247.01 108.49,246.01 110.13,245.06 111.76,244.15 113.4,243.27 115.04,242.44 116.67,241.64 118.31,240.89 119.94,240.16 121.58,239.48 123.21,238.83 124.85,238.21 126.48,237.63 128.12,237.08 129.76,236.57 131.39,236.09 133.03,235.63 134.66,235.21 136.3,234.82 137.93,234.46 139.57,234.13 141.2,233.82 142.84,233.55 144.48,233.3 146.11,233.08 147.75,232.9 149.38,232.74 151.02,232.61 152.65,232.51 154.29,232.44 155.92,232.4 157.56,232.4 159.2,232.42 160.83,232.47 162.47,232.56 164.1,232.67 165.74,232.82 167.37,233 169.01,233.21 170.64,233.45 172.28,233.72 173.92,234.03 175.55,234.36 177.19,234.71 178.82,235.09 180.46,235.48 182.09,235.89 183.73,236.31 185.36,236.75 187,237.19 188.64,237.64 190.27,238.09 191.91,238.55 193.54,239 195.18,239.45 196.81,239.89 198.45,240.32 200.08,240.73 201.72,241.14 203.36,241.52 204.99,241.89 206.63,242.23 208.26,242.55 209.9,242.85 211.53,243.12 213.17,243.37 214.8,243.58 216.44,243.77 218.08,243.93 219.71,244.05 221.35,244.15 222.98,244.2 224.62,244.23 226.25,244.21 227.89,244.16 229.52,244.06 231.16,243.93 232.8,243.75 234.43,243.53 236.07,243.27 237.7,242.96 239.34,242.61 240.97,242.24 242.61,241.85 244.24,241.45 245.88,241.06 247.52,240.67 249.15,240.31 250.79,239.98 252.42,239.69 254.06,239.45 255.69,239.27 257.33,239.16 258.96,239.13 260.6,239.19 262.24,239.35 263.87,239.62 265.51,240.01 267.14,240.52 268.78,241.17 270.41,241.97 272.05,242.9 273.68,243.95 275.32,245.11 276.96,246.36 278.59,247.7 280.23,249.11 281.86,250.57 283.5,252.08 285.13,253.62 286.77,255.17 288.4,256.73 290.04,258.29 291.68,259.82 293.31,261.31 294.95,262.76 296.58,264.15 298.22,265.47 299.85,266.7 301.49,267.83 303.12,268.85 304.76,269.77 306.4,270.58 308.03,271.3 309.67,271.93 311.3,272.47 312.94,272.94 314.57,273.34 316.21,273.66 317.84,273.93 319.48,274.14 321.12,274.3 322.75,274.41 324.39,274.48 326.02,274.53 327.66,274.54 329.29,274.53 330.93,274.5 332.56,274.47 334.2,274.42" fill="none" stroke="#ff0000" stroke-width="1.3" stroke-dasharray="4 2.6" stroke-linejoin="round"/>
<path d="M39.8 269.1L42.6 271.9L39.8 274.7L37 271.9Z" fill="none" stroke="#ff0000" stroke-width="1.1"/>
<path d="M72.51 266.58L75.31 269.38L72.51 272.18L69.71 269.38Z" fill="none" stroke="#ff0000" stroke-width="1.1"/>
<path d="M105.22 245.24L108.02 248.04L105.22 250.84L102.42 248.04Z" fill="none" stroke="#ff0000" stroke-width="1.1"/>
<path d="M137.93 231.66L140.73 234.46L137.93 237.26L135.13 234.46Z" fill="none" stroke="#ff0000" stroke-width="1.1"/>
<path d="M170.64 230.65L173.44 233.45L170.64 236.25L167.84 233.45Z" fill="none" stroke="#ff0000" stroke-width="1.1"/>
<path d="M203.36 238.72L206.16 241.52L203.36 244.32L200.56 241.52Z" fill="none" stroke="#ff0000" stroke-width="1.1"/>
<path d="M236.07 240.47L238.87 243.27L236.07 246.07L233.27 243.27Z" fill="none" stroke="#ff0000" stroke-width="1.1"/>
<path d="M268.78 238.37L271.58 241.17L268.78 243.97L265.98 241.17Z" fill="none" stroke="#ff0000" stroke-width="1.1"/>
<path d="M301.49 265.03L304.29 267.83L301.49 270.63L298.69 267.83Z" fill="none" stroke="#ff0000" stroke-width="1.1"/>
<path d="M334.2 271.62L337 274.42L334.2 277.22L331.4 274.42Z" fill="none" stroke="#ff0000" stroke-width="1.1"/>
<polyline points="39.8,274.42 41.44,274.37 43.07,274.32 44.71,274.26 46.34,274.18 47.98,274.1 49.61,273.99 51.25,273.86 52.88,273.71 54.52,273.53 56.16,273.32 57.79,273.07 59.43,272.78 61.06,272.45 62.7,272.07 64.33,271.64 65.97,271.15 67.6,270.61 69.24,270.01 70.88,269.34 72.51,268.6 74.15,267.8 75.78,266.92 77.42,265.99 79.05,265 80.69,263.96 82.32,262.88 83.96,261.77 85.6,260.62 87.23,259.44 88.87,258.25 90.5,257.04 92.14,255.82 93.77,254.6 95.41,253.39 97.04,252.18 98.68,250.99 100.32,249.82 101.95,248.67 103.59,247.56 105.22,246.49 106.86,245.46 108.49,244.47 110.13,243.54 111.76,242.65 113.4,241.81 115.04,241.02 116.67,240.29 118.31,239.62 119.94,239 121.58,238.43 123.21,237.93 124.85,237.49 126.48,237.12 128.12,236.81 129.76,236.56 131.39,236.39 133.03,236.28 134.66,236.25 136.3,236.29 137.93,236.4 139.57,236.59 141.2,236.85 142.84,237.18 144.48,237.57 146.11,238.01 147.75,238.51 149.38,239.06 151.02,239.65 152.65,240.28 154.29,240.95 155.92,241.64 157.56,242.36 159.2,243.1 160.83,243.85 162.47,244.61 164.1,245.38 165.74,246.15 167.37,246.92 169.01,247.68 170.64,248.43 172.28,249.16 173.92,249.87 175.55,250.56 177.19,251.24 178.82,251.89 180.46,252.53 182.09,253.15 183.73,253.75 185.36,254.32 187,254.88 188.64,255.42 190.27,255.94 191.91,256.43 193.54,256.91 195.18,257.36 196.81,257.79 198.45,258.2 200.08,258.59 201.72,258.95 203.36,259.29 204.99,259.61 206.63,259.9 208.26,260.16 209.9,260.39 211.53,260.59 213.17,260.74 214.8,260.86 216.44,260.93 218.08,260.96 219.71,260.94 221.35,260.86 222.98,260.73 224.62,260.54 226.25,260.29 227.89,259.98 229.52,259.6 231.16,259.15 232.8,258.63 234.43,258.03 236.07,257.35 237.7,256.6 239.34,255.77 240.97,254.89 242.61,253.97 244.24,253.02 245.88,252.05 247.52,251.08 249.15,250.11 250.79,249.17 252.42,248.26 254.06,247.4 255.69,246.59 257.33,245.87 258.96,245.22 260.6,244.68 262.24,244.25 263.87,243.94 265.51,243.77 267.14,243.75 268.78,243.89 270.41,244.2 272.05,244.68 273.68,245.3 275.32,246.06 276.96,246.95 278.59,247.94 280.23,249.02 281.86,250.19 283.5,251.43 285.13,252.72 286.77,254.05 288.4,255.41 290.04,256.79 291.68,258.17 293.31,259.53 294.95,260.87 296.58,262.17 298.22,263.41 299.85,264.59 301.49,265.69 303.12,266.7 304.76,267.63 306.4,268.47 308.03,269.23 309.67,269.91 311.3,270.53 312.94,271.08 314.57,271.57 316.21,272 317.84,272.38 319.48,272.72 321.12,273.02 322.75,273.27 324.39,273.5 326.02,273.69 327.66,273.87 329.29,274.02 330.93,274.16 332.56,274.3 334.2,274.42" fill="none" stroke="#00ff00" stroke-width="1.3" stroke-dasharray="4 2.6" stroke-linejoin="round"/>
<path d="M36.9 274.42L41.54 271.67L41.54 277.18Z" fill="none" stroke="#00ff00" stroke-width="1.1"/>
<path d="M69.61 268.6L74.25 265.85L74.25 271.36Z" fill="none" stroke="#00ff00" stroke-width="1.1"/>
<path d="M102.32 246.49L106.96 243.73L106.96 249.24Z" fill="none" stroke="#00ff00" stroke-width="1.1"/>
<path d="M135.03 236.4L139.67 233.64L139.67 239.15Z" fill="none" stroke="#00ff00" stroke-width="1.1"/>
<path d="M167.74 248.43L172.38 245.67L172.38 251.18Z" fill="none" stroke="#00ff00" stroke-width="1.1"/>
<path d="M200.46 259.29L205.1 256.54L205.1 262.05Z" fill="none" stroke="#00ff00" stroke-width="1.1"/>
<path d="M233.17 257.35L237.81 254.6L237.81 260.11Z" fill="none" stroke="#00ff00" stroke-width="1.1"/>
<path d="M265.88 243.89L270.52 241.13L270.52 246.64Z" fill="none" stroke="#00ff00" stroke-width="1.1"/>
<path d="M298.59 265.69L303.23 262.94L303.23 268.45Z" fill="none" stroke="#00ff00" stroke-width="1.1"/>
<path d="M331.3 274.42L335.94 271.67L335.94 277.18Z" fill="none" stroke="#00ff00" stroke-width="1.1"/>
<rect x="39.8" y="158.8" width="294.4" height="116.4" fill="none" stroke="#000" stroke-width="1.25"/>
<path d="M54.52 275.2v-3.5M54.52 158.8v3.5M69.24 275.2v-6.9M69.24 158.8v6.9M83.96 275.2v-3.5M83.96 158.8v3.5M98.68 275.2v-6.9M98.68 158.8v6.9M113.4 275.2v-3.5M113.4 158.8v3.5M128.12 275.2v-6.9M128.12 158.8v6.9M142.84 275.2v-3.5M142.84 158.8v3.5M157.56 275.2v-6.9M157.56 158.8v6.9M172.28 275.2v-3.5M172.28 158.8v3.5M187 275.2v-6.9M187 158.8v6.9M201.72 275.2v-3.5M201.72 158.8v3.5M216.44 275.2v-6.9M216.44 158.8v6.9M231.16 275.2v-3.5M231.16 158.8v3.5M245.88 275.2v-6.9M245.88 158.8v6.9M260.6 275.2v-3.5M260.6 158.8v3.5M275.32 275.2v-6.9M275.32 158.8v6.9M290.04 275.2v-3.5M290.04 158.8v3.5M304.76 275.2v-6.9M304.76 158.8v6.9M319.48 275.2v-3.5M319.48 158.8v3.5M39.8 265.5h3.5M334.2 265.5h-3.5M39.8 255.8h6.9M334.2 255.8h-6.9M39.8 246.1h3.5M334.2 246.1h-3.5M39.8 236.4h6.9M334.2 236.4h-6.9M39.8 226.7h3.5M334.2 226.7h-3.5M39.8 217h6.9M334.2 217h-6.9M39.8 207.3h3.5M334.2 207.3h-3.5M39.8 197.6h6.9M334.2 197.6h-6.9M39.8 187.9h3.5M334.2 187.9h-3.5M39.8 178.2h6.9M334.2 178.2h-6.9M39.8 168.5h3.5M334.2 168.5h-3.5" stroke="#000" stroke-width="1.25" fill="none"/>
<text x="39.8" y="287.3" text-anchor="middle" font-size="11.8">0</text>
<text x="69.24" y="287.3" text-anchor="middle" font-size="11.8">0.1</text>
<text x="98.68" y="287.3" text-anchor="middle" font-size="11.8">0.2</text>
<text x="128.12" y="287.3" text-anchor="middle" font-size="11.8">0.3</text>
<text x="157.56" y="287.3" text-anchor="middle" font-size="11.8">0.4</text>
<text x="187" y="287.3" text-anchor="middle" font-size="11.8">0.5</text>
<text x="216.44" y="287.3" text-anchor="middle" font-size="11.8">0.6</text>
<text x="245.88" y="287.3" text-anchor="middle" font-size="11.8">0.7</text>
<text x="275.32" y="287.3" text-anchor="middle" font-size="11.8">0.8</text>
<text x="304.76" y="287.3" text-anchor="middle" font-size="11.8">0.9</text>
<text x="334.2" y="287.3" text-anchor="middle" font-size="11.8">1</text>
<text x="36.5" y="279.2" text-anchor="end" font-size="11.8">0</text>
<text x="36.5" y="259.8" text-anchor="end" font-size="11.8">0.05</text>
<text x="36.5" y="240.4" text-anchor="end" font-size="11.8">0.1</text>
<text x="36.5" y="221" text-anchor="end" font-size="11.8">0.15</text>
<text x="36.5" y="201.6" text-anchor="end" font-size="11.8">0.2</text>
<text x="36.5" y="182.2" text-anchor="end" font-size="11.8">0.25</text>
<text x="189.6" y="300.4" text-anchor="middle" font-size="12.2">Reaction coordinate</text>
<text x="50.3" y="174.6" font-size="10"><tspan font-style="italic">q</tspan> = +0.5</text>
<rect x="49.4" y="178.3" width="53.5" height="34.1" fill="#fff" stroke="#000" stroke-width="1.25"/>
<circle cx="59.7" cy="185.3" r="2.45" fill="none" stroke="#000" stroke-width="1.1"/>
<text x="97.5" y="188.6" text-anchor="end" font-size="9.6">-5.0%</text>
<path d="M59.7 192.8L62.5 195.6L59.7 198.4L56.9 195.6Z" fill="none" stroke="#ff0000" stroke-width="1.1"/>
<text x="97.5" y="198.9" text-anchor="end" font-size="9.6">0.0%</text>
<path d="M56.8 205.9L61.44 203.15L61.44 208.66Z" fill="none" stroke="#00ff00" stroke-width="1.1"/>
<text x="97.5" y="209.2" text-anchor="end" font-size="9.6">+5.0%</text>
<text x="331" y="168.4" text-anchor="end" font-size="10" font-weight="bold">(b)</text>
<text transform="translate(352.6,215.7) rotate(-90)" text-anchor="middle" font-size="12.5"><tspan font-style="italic">E</tspan> (eV)</text>
<polyline points="381.9,272.29 383.53,272.25 385.17,272.21 386.8,272.16 388.44,272.09 390.07,272.01 391.71,271.9 393.34,271.76 394.98,271.59 396.61,271.38 398.24,271.12 399.88,270.82 401.51,270.46 403.15,270.05 404.78,269.57 406.42,269.02 408.05,268.41 409.69,267.71 411.32,266.93 412.95,266.07 414.59,265.11 416.22,264.06 417.86,262.91 419.49,261.68 421.13,260.35 422.76,258.94 424.4,257.44 426.03,255.87 427.66,254.22 429.3,252.49 430.93,250.7 432.57,248.83 434.2,246.9 435.84,244.9 437.47,242.85 439.11,240.74 440.74,238.57 442.37,236.35 444.01,234.09 445.64,231.77 447.28,229.42 448.91,227.02 450.55,224.6 452.18,222.15 453.82,219.7 455.45,217.26 457.08,214.83 458.72,212.42 460.35,210.06 461.99,207.74 463.62,205.48 465.26,203.3 466.89,201.19 468.53,199.19 470.16,197.28 471.79,195.49 473.43,193.83 475.06,192.31 476.7,190.93 478.33,189.72 479.97,188.68 481.6,187.81 483.24,187.13 484.87,186.6 486.5,186.24 488.14,186.02 489.77,185.94 491.41,185.99 493.04,186.16 494.68,186.45 496.31,186.84 497.95,187.32 499.58,187.89 501.21,188.54 502.85,189.25 504.48,190.03 506.12,190.85 507.75,191.72 509.39,192.63 511.02,193.55 512.66,194.5 514.29,195.45 515.92,196.4 517.56,197.36 519.19,198.31 520.83,199.26 522.46,200.19 524.1,201.12 525.73,202.03 527.37,202.92 529,203.78 530.63,204.62 532.27,205.43 533.9,206.21 535.54,206.96 537.17,207.66 538.81,208.32 540.44,208.94 542.08,209.51 543.71,210.02 545.34,210.48 546.98,210.88 548.61,211.23 550.25,211.51 551.88,211.74 553.52,211.92 555.15,212.04 556.79,212.11 558.42,212.13 560.05,212.09 561.69,212.01 563.32,211.87 564.96,211.69 566.59,211.46 568.23,211.19 569.86,210.87 571.5,210.5 573.13,210.09 574.76,209.64 576.4,209.15 578.03,208.62 579.67,208.05 581.3,207.46 582.94,206.85 584.57,206.26 586.21,205.68 587.84,205.14 589.47,204.66 591.11,204.24 592.74,203.9 594.38,203.66 596.01,203.54 597.65,203.54 599.28,203.69 600.92,203.99 602.55,204.47 604.18,205.14 605.82,206.01 607.45,207.11 609.09,208.44 610.72,210.02 612.36,211.85 613.99,213.93 615.63,216.23 617.26,218.71 618.89,221.36 620.53,224.15 622.16,227.06 623.8,230.06 625.43,233.12 627.07,236.22 628.7,239.34 630.34,242.45 631.97,245.52 633.6,248.53 635.24,251.46 636.87,254.28 638.51,256.96 640.14,259.48 641.78,261.82 643.41,263.95 645.05,265.85 646.68,267.52 648.31,268.99 649.95,270.25 651.58,271.32 653.22,272.22 654.85,272.96 656.49,273.54 658.12,273.98 659.76,274.29 661.39,274.48 663.02,274.57 664.66,274.56 666.29,274.48 667.93,274.32 669.56,274.1 671.2,273.83 672.83,273.53 674.47,273.21 676.1,272.87" fill="none" stroke="#000" stroke-width="1.05" stroke-dasharray="1 1.9" stroke-linejoin="round"/>
<circle cx="381.9" cy="272.29" r="2.45" fill="none" stroke="#000" stroke-width="1.1"/>
<circle cx="414.59" cy="265.11" r="2.45" fill="none" stroke="#000" stroke-width="1.1"/>
<circle cx="447.28" cy="229.42" r="2.45" fill="none" stroke="#000" stroke-width="1.1"/>
<circle cx="479.97" cy="188.68" r="2.45" fill="none" stroke="#000" stroke-width="1.1"/>
<circle cx="512.66" cy="194.5" r="2.45" fill="none" stroke="#000" stroke-width="1.1"/>
<circle cx="545.34" cy="210.48" r="2.45" fill="none" stroke="#000" stroke-width="1.1"/>
<circle cx="578.03" cy="208.62" r="2.45" fill="none" stroke="#000" stroke-width="1.1"/>
<circle cx="610.72" cy="210.02" r="2.45" fill="none" stroke="#000" stroke-width="1.1"/>
<circle cx="643.41" cy="263.95" r="2.45" fill="none" stroke="#000" stroke-width="1.1"/>
<circle cx="676.1" cy="272.87" r="2.45" fill="none" stroke="#000" stroke-width="1.1"/>
<polyline points="381.9,274.04 383.53,273.86 385.17,273.68 386.8,273.49 388.44,273.29 390.07,273.07 391.71,272.83 393.34,272.57 394.98,272.28 396.61,271.95 398.24,271.6 399.88,271.2 401.51,270.75 403.15,270.26 404.78,269.71 406.42,269.11 408.05,268.45 409.69,267.72 411.32,266.93 412.95,266.06 414.59,265.11 416.22,264.09 417.86,262.98 419.49,261.81 421.13,260.55 422.76,259.23 424.4,257.84 426.03,256.39 427.66,254.88 429.3,253.31 430.93,251.68 432.57,249.99 434.2,248.26 435.84,246.48 437.47,244.65 439.11,242.79 440.74,240.88 442.37,238.93 444.01,236.96 445.64,234.95 447.28,232.91 448.91,230.85 450.55,228.77 452.18,226.69 453.82,224.63 455.45,222.59 457.08,220.59 458.72,218.65 460.35,216.76 461.99,214.96 463.62,213.24 465.26,211.62 466.89,210.12 468.53,208.75 470.16,207.52 471.79,206.44 473.43,205.53 475.06,204.8 476.7,204.26 478.33,203.92 479.97,203.81 481.6,203.92 483.24,204.24 484.87,204.76 486.5,205.47 488.14,206.34 489.77,207.37 491.41,208.52 493.04,209.8 494.68,211.18 496.31,212.65 497.95,214.19 499.58,215.79 501.21,217.42 502.85,219.08 504.48,220.75 506.12,222.41 507.75,224.04 509.39,225.64 511.02,227.17 512.66,228.64 514.29,230.02 515.92,231.32 517.56,232.54 519.19,233.68 520.83,234.74 522.46,235.74 524.1,236.67 525.73,237.54 527.37,238.35 529,239.1 530.63,239.8 532.27,240.45 533.9,241.06 535.54,241.63 537.17,242.15 538.81,242.65 540.44,243.11 542.08,243.55 543.71,243.96 545.34,244.35 546.98,244.73 548.61,245.08 550.25,245.4 551.88,245.68 553.52,245.92 555.15,246.1 556.79,246.23 558.42,246.28 560.05,246.27 561.69,246.17 563.32,245.98 564.96,245.7 566.59,245.31 568.23,244.82 569.86,244.2 571.5,243.46 573.13,242.59 574.76,241.58 576.4,240.43 578.03,239.12 579.67,237.65 581.3,236.05 582.94,234.34 584.57,232.56 586.21,230.72 587.84,228.85 589.47,226.98 591.11,225.14 592.74,223.36 594.38,221.66 596.01,220.07 597.65,218.61 599.28,217.31 600.92,216.21 602.55,215.32 604.18,214.67 605.82,214.3 607.45,214.22 609.09,214.46 610.72,215.06 612.36,216.03 613.99,217.34 615.63,218.97 617.26,220.88 618.89,223.05 620.53,225.43 622.16,228.01 623.8,230.75 625.43,233.62 627.07,236.58 628.7,239.62 630.34,242.68 631.97,245.75 633.6,248.79 635.24,251.78 636.87,254.67 638.51,257.44 640.14,260.06 641.78,262.5 643.41,264.72 645.05,266.71 646.68,268.46 648.31,269.99 649.95,271.31 651.58,272.43 653.22,273.37 654.85,274.14 656.49,274.74 658.12,275.2 659.76,275.53 661.39,275.73 663.02,275.82 664.66,275.81 666.29,275.72 667.93,275.55 669.56,275.32 671.2,275.04 672.83,274.73 674.47,274.39 676.1,274.04" fill="none" stroke="#ff0000" stroke-width="1.05" stroke-dasharray="1 1.9" stroke-linejoin="round"/>
<path d="M381.9 271.24L384.7 274.04L381.9 276.84L379.1 274.04Z" fill="none" stroke="#ff0000" stroke-width="1.1"/>
<path d="M414.59 262.31L417.39 265.11L414.59 267.91L411.79 265.11Z" fill="none" stroke="#ff0000" stroke-width="1.1"/>
<path d="M447.28 230.11L450.08 232.91L447.28 235.71L444.48 232.91Z" fill="none" stroke="#ff0000" stroke-width="1.1"/>
<path d="M479.97 201.01L482.77 203.81L479.97 206.61L477.17 203.81Z" fill="none" stroke="#ff0000" stroke-width="1.1"/>
<path d="M512.66 225.84L515.46 228.64L512.66 231.44L509.86 228.64Z" fill="none" stroke="#ff0000" stroke-width="1.1"/>
<path d="M545.34 241.55L548.14 244.35L545.34 247.15L542.54 244.35Z" fill="none" stroke="#ff0000" stroke-width="1.1"/>
<path d="M578.03 236.32L580.83 239.12L578.03 241.92L575.23 239.12Z" fill="none" stroke="#ff0000" stroke-width="1.1"/>
<path d="M610.72 212.26L613.52 215.06L610.72 217.86L607.92 215.06Z" fill="none" stroke="#ff0000" stroke-width="1.1"/>
<path d="M643.41 261.92L646.21 264.72L643.41 267.52L640.61 264.72Z" fill="none" stroke="#ff0000" stroke-width="1.1"/>
<path d="M676.1 271.24L678.9 274.04L676.1 276.84L673.3 274.04Z" fill="none" stroke="#ff0000" stroke-width="1.1"/>
<polyline points="381.9,275.2 383.53,275.3 385.17,275.39 386.8,275.47 388.44,275.53 390.07,275.57 391.71,275.57 393.34,275.53 394.98,275.44 396.61,275.3 398.24,275.11 399.88,274.84 401.51,274.51 403.15,274.09 404.78,273.59 406.42,273 408.05,272.3 409.69,271.5 411.32,270.59 412.95,269.56 414.59,268.41 416.22,267.13 417.86,265.72 419.49,264.2 421.13,262.57 422.76,260.84 424.4,259.02 426.03,257.13 427.66,255.16 429.3,253.13 430.93,251.04 432.57,248.91 434.2,246.73 435.84,244.53 437.47,242.31 439.11,240.08 440.74,237.84 442.37,235.61 444.01,233.39 445.64,231.19 447.28,229.03 448.91,226.9 450.55,224.83 452.18,222.81 453.82,220.87 455.45,219 457.08,217.23 458.72,215.57 460.35,214.02 461.99,212.59 463.62,211.3 465.26,210.16 466.89,209.17 468.53,208.35 470.16,207.71 471.79,207.26 473.43,207.01 475.06,206.97 476.7,207.16 478.33,207.57 479.97,208.23 481.6,209.14 483.24,210.28 484.87,211.63 486.5,213.17 488.14,214.89 489.77,216.75 491.41,218.74 493.04,220.83 494.68,223.01 496.31,225.26 497.95,227.55 499.58,229.87 501.21,232.18 502.85,234.48 504.48,236.74 506.12,238.93 507.75,241.04 509.39,243.05 511.02,244.94 512.66,246.68 514.29,248.26 515.92,249.69 517.56,250.97 519.19,252.11 520.83,253.13 522.46,254.03 524.1,254.83 525.73,255.53 527.37,256.15 529,256.69 530.63,257.18 532.27,257.6 533.9,257.99 535.54,258.33 537.17,258.66 538.81,258.97 540.44,259.28 542.08,259.6 543.71,259.94 545.34,260.3 546.98,260.7 548.61,261.12 550.25,261.55 551.88,261.98 553.52,262.4 555.15,262.78 556.79,263.12 558.42,263.4 560.05,263.62 561.69,263.75 563.32,263.78 564.96,263.7 566.59,263.5 568.23,263.16 569.86,262.67 571.5,262.01 573.13,261.18 574.76,260.15 576.4,258.92 578.03,257.47 579.67,255.79 581.3,253.92 582.94,251.87 584.57,249.69 586.21,247.4 587.84,245.04 589.47,242.63 591.11,240.22 592.74,237.83 594.38,235.49 596.01,233.24 597.65,231.1 599.28,229.11 600.92,227.31 602.55,225.71 604.18,224.36 605.82,223.29 607.45,222.53 609.09,222.1 610.72,222.04 612.36,222.38 613.99,223.09 615.63,224.14 617.26,225.5 618.89,227.14 620.53,229.03 622.16,231.13 623.8,233.42 625.43,235.86 627.07,238.42 628.7,241.08 630.34,243.79 631.97,246.54 633.6,249.28 635.24,251.99 636.87,254.63 638.51,257.18 640.14,259.61 641.78,261.87 643.41,263.95 645.05,265.81 646.68,267.47 648.31,268.92 649.95,270.19 651.58,271.28 653.22,272.21 654.85,272.99 656.49,273.62 658.12,274.12 659.76,274.49 661.39,274.76 663.02,274.93 664.66,275.01 666.29,275.02 667.93,274.95 669.56,274.84 671.2,274.67 672.83,274.48 674.47,274.26 676.1,274.04" fill="none" stroke="#00ff00" stroke-width="1.05" stroke-dasharray="1 1.9" stroke-linejoin="round"/>
<path d="M379 275.2L383.64 272.44L383.64 277.95Z" fill="none" stroke="#00ff00" stroke-width="1.1"/>
<path d="M411.69 268.41L416.33 265.65L416.33 271.16Z" fill="none" stroke="#00ff00" stroke-width="1.1"/>
<path d="M444.38 229.03L449.02 226.27L449.02 231.78Z" fill="none" stroke="#00ff00" stroke-width="1.1"/>
<path d="M477.07 208.23L481.71 205.48L481.71 210.99Z" fill="none" stroke="#00ff00" stroke-width="1.1"/>
<path d="M509.76 246.68L514.4 243.93L514.4 249.44Z" fill="none" stroke="#00ff00" stroke-width="1.1"/>
<path d="M542.44 260.3L547.08 257.55L547.08 263.06Z" fill="none" stroke="#00ff00" stroke-width="1.1"/>
<path d="M575.13 257.47L579.77 254.71L579.77 260.22Z" fill="none" stroke="#00ff00" stroke-width="1.1"/>
<path d="M607.82 222.04L612.46 219.29L612.46 224.8Z" fill="none" stroke="#00ff00" stroke-width="1.1"/>
<path d="M640.51 263.95L645.15 261.19L645.15 266.7Z" fill="none" stroke="#00ff00" stroke-width="1.1"/>
<path d="M673.2 274.04L677.84 271.28L677.84 276.79Z" fill="none" stroke="#00ff00" stroke-width="1.1"/>
<rect x="381.9" y="158.8" width="294.2" height="116.4" fill="none" stroke="#000" stroke-width="1.25"/>
<path d="M396.61 275.2v-3.5M396.61 158.8v3.5M411.32 275.2v-6.9M411.32 158.8v6.9M426.03 275.2v-3.5M426.03 158.8v3.5M440.74 275.2v-6.9M440.74 158.8v6.9M455.45 275.2v-3.5M455.45 158.8v3.5M470.16 275.2v-6.9M470.16 158.8v6.9M484.87 275.2v-3.5M484.87 158.8v3.5M499.58 275.2v-6.9M499.58 158.8v6.9M514.29 275.2v-3.5M514.29 158.8v3.5M529 275.2v-6.9M529 158.8v6.9M543.71 275.2v-3.5M543.71 158.8v3.5M558.42 275.2v-6.9M558.42 158.8v6.9M573.13 275.2v-3.5M573.13 158.8v3.5M587.84 275.2v-6.9M587.84 158.8v6.9M602.55 275.2v-3.5M602.55 158.8v3.5M617.26 275.2v-6.9M617.26 158.8v6.9M631.97 275.2v-3.5M631.97 158.8v3.5M646.68 275.2v-6.9M646.68 158.8v6.9M661.39 275.2v-3.5M661.39 158.8v3.5M381.9 265.5h3.5M676.1 265.5h-3.5M381.9 255.8h6.9M676.1 255.8h-6.9M381.9 246.1h3.5M676.1 246.1h-3.5M381.9 236.4h6.9M676.1 236.4h-6.9M381.9 226.7h3.5M676.1 226.7h-3.5M381.9 217h6.9M676.1 217h-6.9M381.9 207.3h3.5M676.1 207.3h-3.5M381.9 197.6h6.9M676.1 197.6h-6.9M381.9 187.9h3.5M676.1 187.9h-3.5M381.9 178.2h6.9M676.1 178.2h-6.9M381.9 168.5h3.5M676.1 168.5h-3.5" stroke="#000" stroke-width="1.25" fill="none"/>
<text x="381.9" y="287.3" text-anchor="middle" font-size="11.8">0</text>
<text x="411.32" y="287.3" text-anchor="middle" font-size="11.8">0.1</text>
<text x="440.74" y="287.3" text-anchor="middle" font-size="11.8">0.2</text>
<text x="470.16" y="287.3" text-anchor="middle" font-size="11.8">0.3</text>
<text x="499.58" y="287.3" text-anchor="middle" font-size="11.8">0.4</text>
<text x="529" y="287.3" text-anchor="middle" font-size="11.8">0.5</text>
<text x="558.42" y="287.3" text-anchor="middle" font-size="11.8">0.6</text>
<text x="587.84" y="287.3" text-anchor="middle" font-size="11.8">0.7</text>
<text x="617.26" y="287.3" text-anchor="middle" font-size="11.8">0.8</text>
<text x="646.68" y="287.3" text-anchor="middle" font-size="11.8">0.9</text>
<text x="676.1" y="287.3" text-anchor="middle" font-size="11.8">1</text>
<text x="378.6" y="279.2" text-anchor="end" font-size="11.8">0</text>
<text x="378.6" y="259.8" text-anchor="end" font-size="11.8">0.05</text>
<text x="378.6" y="240.4" text-anchor="end" font-size="11.8">0.1</text>
<text x="378.6" y="221" text-anchor="end" font-size="11.8">0.15</text>
<text x="378.6" y="201.6" text-anchor="end" font-size="11.8">0.2</text>
<text x="378.6" y="182.2" text-anchor="end" font-size="11.8">0.25</text>
<text x="529.5" y="300.4" text-anchor="middle" font-size="12.2">Reaction coordinate</text>
<text x="392.7" y="173.9" font-size="10"><tspan font-style="italic">q</tspan> = +1</text>
<rect x="390.7" y="179.2" width="53.9" height="33.5" fill="#fff" stroke="#000" stroke-width="1.25"/>
<circle cx="401.9" cy="185.8" r="2.45" fill="none" stroke="#000" stroke-width="1.1"/>
<text x="438.6" y="189.1" text-anchor="end" font-size="9.6">-5.0%</text>
<path d="M401.9 193.3L404.7 196.1L401.9 198.9L399.1 196.1Z" fill="none" stroke="#ff0000" stroke-width="1.1"/>
<text x="438.6" y="199.4" text-anchor="end" font-size="9.6">0.0%</text>
<path d="M399 206.4L403.64 203.65L403.64 209.16Z" fill="none" stroke="#00ff00" stroke-width="1.1"/>
<text x="438.6" y="209.7" text-anchor="end" font-size="9.6">+5.0%</text>
<text x="672" y="168.6" text-anchor="end" font-size="10" font-weight="bold">(c)</text>
</svg></body></html>
